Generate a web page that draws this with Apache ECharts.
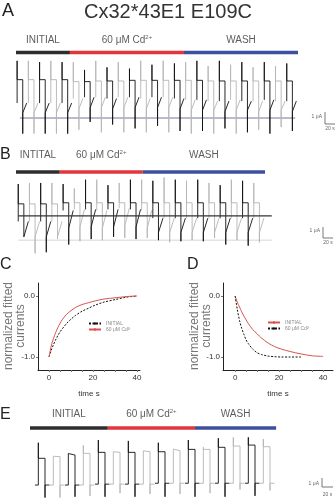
<!DOCTYPE html>
<html><head><meta charset="utf-8">
<script src="https://cdn.jsdelivr.net/npm/echarts@6/dist/echarts.min.js"></script>
<style>html,body{margin:0;padding:0;background:#fff}#c{width:336px;height:499px}</style>
</head><body><div id="c"></div>
<script>
// ---------- DATA ----------
const titleText = 'Cx32*43E1 E109C';
const phaseNamesA = ['INITIAL', '60 μM Cd2+', 'WASH'];
const phaseNamesB = ['INTITAL', '60 μM Cd2+', 'WASH'];
const phaseNamesE = ['INITIAL', '60 μM Cd2+', 'WASH'];
const phaseEdgesA = [-2, 94, 297, 500];      // seconds
const phaseEdgesB = [0, 78, 226, 444];
const phaseEdgesE = [0, 140, 297, 443];

// Panel A pulses (μA, baseline = 0)
const onsetA = [0, 20, 40, 60, 80, 100, 120, 140, 160, 180, 200, 220, 240, 260, 280, 300, 320, 340, 360, 380, 400, 420, 440, 460, 480];
const topA = [4.4, 4.4, 4.3, 4.4, 4.3, 4.3, 3.7, 4.4, 3.9, 4.3, 3.8, 4.4, 4.1, 4.4, 4.2, 4.3, 4.4, 4.0, 4.4, 4.1, 4.3, 3.9, 4.3, 4.0, 4.2];
const plateauA = [2.95, 2.95, 2.95, 2.95, 2.95, 2.8, 2.8, 2.85, 2.85, 2.85, 2.9, 2.9, 2.9, 2.9, 2.9, 2.9, 2.9, 2.85, 2.85, 2.85, 2.85, 2.85, 2.85, 2.85, 2.85];
const bottomA = [-1.2, -1.2, -1.2, -1.2, -1.2, -0.9, -0.3, -1.1, -0.5, -1.1, -0.8, -1.1, -0.6, -1.1, -1.0, -1.2, -1.0, -1.2, -0.8, -1.2, -1.1, -0.9, -1.2, -0.7, -1.0];
const recStartA = [0.4, 0.4, 0.4, 0.4, 0.4, 0.7, 0.8, 0.8, 0.7, 0.8, 0.8, 0.7, 0.8, 0.8, 0.7, 0.6, 0.6, 0.6, 0.5, 0.6, 0.6, 0.5, 0.6, 0.6, 0.5];
const recEndA = [1.15, 1.15, 1.15, 1.15, 1.15, 1.5, 1.6, 1.6, 1.5, 1.6, 1.6, 1.5, 1.6, 1.6, 1.5, 1.4, 1.4, 1.3, 1.3, 1.4, 1.3, 1.3, 1.4, 1.3, 1.3];
const baselineA = [5, 495];

// Panel B pulses
const onsetB = [4, 24, 44, 64, 84, 104, 124, 144, 164, 184, 204, 224, 244, 264, 284, 304, 324, 344, 364, 384, 404, 424];
const topB = [2.9, 3.0, 3.0, 3.0, 2.9, 2.5, 3.3, 3.3, 2.8, 3.0, 3.3, 3.3, 3.2, 3.5, 3.3, 3.2, 3.3, 3.0, 2.8, 3.3, 3.2, 3.0];
const plateauB = [1.1, 1.1, 1.1, 1.1, 1.2, 1.2, 1.2, 1.2, 1.2, 1.2, 1.2, 1.2, 1.2, 1.2, 1.2, 1.2, 1.2, 1.2, 1.2, 1.2, 1.2, 1.2];
const bottomB = [-1.9, -3.4, -3.3, -2.1, -2.6, -2.3, -2.1, -2.2, -1.9, -2.0, -2.1, -2.0, -2.2, -2.4, -2.3, -2.2, -2.3, -2.0, -2.6, -2.2, -2.7, -2.4];
const recStartB = [-1.9, -1.9, -1.9, -1.9, -1.1, -1.0, -1.0, -1.1, -1.0, -0.9, -1.0, -1.1, -1.5, -1.5, -1.5, -1.5, -1.5, -1.5, -1.5, -1.5, -1.5, -1.5];
const recEndB = [-0.5, -0.5, -0.5, -0.5, 0.5, 0.6, 0.6, 0.5, 0.6, 0.7, 0.6, 0.5, -0.2, -0.2, -0.2, -0.2, -0.2, -0.2, -0.2, -0.2, -0.2, -0.2];
const baselineB = [4, 456];
const lowerLineB = -2.2;

// Panel E pulses
const onsetE = [15, 42, 69, 96, 123, 150, 177, 204, 231, 258, 285, 312, 339, 366, 393, 420];
const topE = [4.7, 3.2, 3.5, 4.4, 5.0, 3.7, 4.9, 3.8, 4.7, 4.0, 5.0, 4.2, 5.2, 5.3, 5.3, 5.1];
const plateauE = [2.97, 3.15, 3.33, 3.52, 3.63, 3.63, 3.63, 3.7, 3.7, 3.81, 3.96, 3.96, 4.19, 4.33, 4.44, 4.26];
const bottomE = [-1.4, -1.4, -1.3, -1.2, -1.3, -0.9, -1.3, -1.0, -1.3, -1.0, -1.3, -0.9, -1.3, -0.5, -1.2, -0.6];
const lowE = [0, 0, 0, 0, 0.1, 0.1, 0.1, 0.1, 0.2, 0.2, 0.2, 0.2, 0.2, 0.2, 0.2, 0.2];

// Panels C and D (normalized fitted currents vs time s)
const tFit = [0, 1, 2, 3, 4, 5, 6, 8, 10, 12, 15, 18, 21, 25, 30, 35, 40];
const cRed = [-1, -0.82, -0.7, -0.6, -0.52, -0.45, -0.39, -0.3, -0.24, -0.19, -0.14, -0.11, -0.08, -0.05, -0.03, -0.01, 0];
const cBlack = [-1, -0.89, -0.8, -0.72, -0.65, -0.59, -0.54, -0.45, -0.38, -0.32, -0.25, -0.2, -0.15, -0.1, -0.06, -0.02, 0];
const dRed = [0, -0.1, -0.18, -0.26, -0.33, -0.39, -0.45, -0.55, -0.62, -0.69, -0.77, -0.83, -0.87, -0.91, -0.95, -0.98, -0.99];
const tFitD2 = [0, 1, 2, 3, 4, 5, 6, 8, 10, 12, 15, 18, 21, 25, 30];
const dBlack = [0, -0.22, -0.4, -0.53, -0.63, -0.72, -0.78, -0.87, -0.93, -0.96, -0.985, -0.995, -1, -1, -1];
const yTickC = [0, -1];
const xTickLabels = [0, 20, 40];
const xMinorTicks = [0, 5, 10, 15, 20, 25, 30, 35, 40];

// ---------- BUILD ----------
const FONT = '"Liberation Sans", Arial, sans-serif';
const BLACK = '#111', GRAY = '#b4b4b4';
const PHASE_COLORS = ['#2e2e2e', '#e3353b', '#3d4f9f'];
const series = [];

function addPhases(idx, names, edges, barY, labelY) {
  names.forEach((n, i) => {
    series.push({type: 'line', xAxisIndex: idx, yAxisIndex: idx, symbol: 'none', silent: true,
      data: [[edges[i], barY], [edges[i + 1], barY]],
      lineStyle: {color: PHASE_COLORS[i], width: 3.5, cap: 'butt'}, z: 5});
  });
  series.push({type: 'scatter', xAxisIndex: idx, yAxisIndex: idx, symbolSize: 0.01, silent: true,
    itemStyle: {color: 'rgba(0,0,0,0)'},
    data: names.map((n, i) => ({value: [(edges[i] + edges[i + 1]) / 2, labelY], name: n})),
    label: {show: true, position: 'inside', fontFamily: FONT,
      formatter: p => p.name.indexOf('Cd2+') >= 0 ? '{n|' + p.name.replace('2+', '') + '}{s|2+}' : '{n|' + p.name + '}',
      rich: {n: {fontSize: 10, color: '#333', fontFamily: FONT, lineHeight: 12},
             s: {fontSize: 6, color: '#333', fontFamily: FONT, verticalAlign: 'top', lineHeight: 12}}}});
}

function addPulsesAB(idx, onset, w, s, top, plat, bot, rS, rE) {
  onset.forEach((t, k) => {
    series.push({type: 'line', xAxisIndex: idx, yAxisIndex: idx, symbol: 'none', silent: true,
      data: [[t, rE[k]], [t, top[k]], [t, plat[k]], [t + w, plat[k]], [t + w, bot[k]], [t + w, rS[k]], [t + w + s, rE[k]]],
      lineStyle: {color: k % 2 ? GRAY : BLACK, width: 0.9}, z: k % 2 ? 2 : 3});
  });
}

function addPulsesE(idx, onset, w, top, plat, bot, low) {
  onset.forEach((t, k) => {
    series.push({type: 'line', xAxisIndex: idx, yAxisIndex: idx, symbol: 'none', silent: true,
      data: [[t - 6, low[k]], [t, low[k]], [t, top[k]], [t, plat[k]], [t + w, plat[k]], [t + w, bot[k]], [t + w, low[k]], [t + w + 8, low[k]]],
      lineStyle: {color: k % 2 ? GRAY : BLACK, width: 0.9}, z: k % 2 ? 2 : 3});
  });
}

// baselines
series.push({type: 'line', xAxisIndex: 0, yAxisIndex: 0, symbol: 'none', silent: true,
  data: [[baselineA[0], 0], [baselineA[1], 0]], lineStyle: {color: '#737899', width: 1}, z: 1});
series.push({type: 'line', xAxisIndex: 1, yAxisIndex: 1, symbol: 'none', silent: true,
  data: [[baselineB[0], 0], [baselineB[1], 0]], lineStyle: {color: '#333', width: 1.2}, z: 4});
series.push({type: 'line', xAxisIndex: 1, yAxisIndex: 1, symbol: 'none', silent: true,
  data: [[baselineB[0], lowerLineB], [baselineB[1], lowerLineB]], lineStyle: {color: '#d6d6d6', width: 1}, z: 1});

addPhases(0, phaseNamesA, phaseEdgesA, 5.04, 6.0);
addPhases(1, phaseNamesB, phaseEdgesB, 4.0, 5.54);
addPhases(4, phaseNamesE, phaseEdgesE, 6.33, 7.89);
addPulsesAB(0, onsetA, 10, 7, topA, plateauA, bottomA, recStartA, recEndA);
addPulsesAB(1, onsetB, 10, 8, topB, plateauB, bottomB, recStartB, recEndB);
addPulsesE(4, onsetE, 12, topE, plateauE, bottomE, lowE);

// C and D curves
const redStyle = {color: '#d9534f', width: 1};
const blkStyle = {color: '#111', width: 1, type: [2, 1.5]};
series.push({type: 'line', name: 'INITIAL', xAxisIndex: 2, yAxisIndex: 2, symbol: 'none', smooth: 0.3,
  data: tFit.map((t, i) => [t, cBlack[i]]), lineStyle: blkStyle, itemStyle: {color: '#111'}});
series.push({type: 'line', name: '60 μM Cd²⁺', xAxisIndex: 2, yAxisIndex: 2, symbol: 'none', smooth: 0.3,
  data: tFit.map((t, i) => [t, cRed[i]]), lineStyle: redStyle, itemStyle: {color: '#d9534f'}});
series.push({type: 'line', name: 'INITIAL ', xAxisIndex: 3, yAxisIndex: 3, symbol: 'none', smooth: 0.3,
  data: tFit.map((t, i) => [t, dRed[i]]), lineStyle: redStyle, itemStyle: {color: '#d9534f'}});
series.push({type: 'line', name: '60 μM Cd²⁺ ', xAxisIndex: 3, yAxisIndex: 3, symbol: 'none', smooth: 0.3,
  data: tFitD2.map((t, i) => [t, dBlack[i]]), lineStyle: blkStyle, itemStyle: {color: '#111'}});

function hiddenAxes(idx, xmin, xmax, ymin, ymax) {
  return [{gridIndex: idx, type: 'value', min: xmin, max: xmax, show: false},
          {gridIndex: idx, type: 'value', min: ymin, max: ymax, show: false}];
}
function fitX(idx, min, max) {
  return {gridIndex: idx, type: 'value', min: min, max: max,
    axisLine: {show: true, onZero: false, lineStyle: {color: '#222', width: 1}},
    axisTick: {show: true, customValues: xMinorTicks, length: 2, lineStyle: {color: '#777'}},
    axisLabel: {customValues: xTickLabels, fontSize: 8, color: '#333', margin: 4, fontFamily: FONT},
    splitLine: {show: false},
    name: 'time s', nameLocation: 'middle', nameGap: 20, nameTextStyle: {fontSize: 8, color: '#333', fontFamily: FONT}};
}
function fitY(idx) {
  return {gridIndex: idx, type: 'value', min: -1.213, max: 0.213,
    axisLine: {show: true, onZero: false, lineStyle: {color: '#222', width: 1}},
    axisTick: {show: true, customValues: yTickC, length: 2, lineStyle: {color: '#777'}},
    axisLabel: {customValues: yTickC, fontSize: 8, color: '#333', margin: 3, fontFamily: FONT,
      formatter: v => Number(v).toFixed(1)},
    splitLine: {show: false}};
}
const hA = hiddenAxes(0, -2, 500, -1.46, 6.54);
const hB = hiddenAxes(1, 0, 460, -3.64, 6.18);
const hE = hiddenAxes(4, 0, 450, -1.44, 8.89);

const legendCommon = {orient: 'vertical', itemWidth: 12, itemHeight: 3, itemGap: 1, padding: 0,
  textStyle: {fontSize: 5, color: '#888', fontFamily: FONT}};

function txt(text, x, y, size, opts) {
  return Object.assign({type: 'text', x: x, y: y, silent: true,
    style: Object.assign({text: text, fontSize: size, fontFamily: FONT, fill: '#222',
      textAlign: 'left', textVerticalAlign: 'middle'}, (opts || {}))});
}
function scaleBar(x, y1, y2, x2, ly, ty) {
  return [
    {type: 'polyline', silent: true, shape: {points: [[x, y1], [x, y2], [x2, y2]]}, style: {stroke: '#555', lineWidth: 0.8, fill: null}},
    txt('1 μA', x - 3, ly, 5, {textAlign: 'right', fill: '#666'}),
    txt('20 s', (x + x2) / 2, ty, 5, {textAlign: 'center', fill: '#666'})
  ];
}

const option = {
  animation: false,
  backgroundColor: '#fff',
  grid: [
    {left: 16, top: 33, width: 282, height: 104, outerBoundsMode: 'none'},
    {left: 16, top: 148, width: 258, height: 108, outerBoundsMode: 'none'},
    {left: 38, top: 283, width: 102, height: 87, outerBoundsMode: 'none'},
    {left: 223, top: 283, width: 110, height: 87, outerBoundsMode: 'none'},
    {left: 30, top: 405, width: 250, height: 93, outerBoundsMode: 'none'}
  ],
  xAxis: [hA[0], hB[0], fitX(2, -5, 41.36), fitX(3, -5.5, 44.5), hE[0]],
  yAxis: [hA[1], hB[1], fitY(2), fitY(3), hE[1]],
  legend: [
    Object.assign({left: 88, top: 321, data: ['INITIAL', '60 μM Cd²⁺']}, legendCommon),
    Object.assign({left: 267, top: 320, data: ['INITIAL ', '60 μM Cd²⁺ ']}, legendCommon)
  ],
  series: series,
  graphic: [
    txt('A', 2, 11, 18),
    txt(titleText, 168, 12, 20, {textAlign: 'center', fill: '#333'}),
    txt('B', 0, 155, 16),
    txt('C', 0, 265, 16),
    txt('D', 187, 265, 16),
    txt('E', 0, 415, 16),
    Object.assign(txt('normalized fitted\ncurrents', 15, 326, 12, {textAlign: 'center', fill: '#777', lineHeight: 12}), {rotation: Math.PI / 2}),
    Object.assign(txt('normalized fitted\ncurrents', 201, 326, 12, {textAlign: 'center', fill: '#777', lineHeight: 12}), {rotation: Math.PI / 2})
  ].concat(scaleBar(325, 112, 124, 335, 117, 129))
   .concat(scaleBar(323, 227, 238, 333, 231, 243))
   .concat(scaleBar(322, 478, 487, 333, 484, 495))
};

const chart = echarts.init(document.getElementById('c'), null, {renderer: 'canvas'});
chart.setOption(option);
</script>
</body></html>
